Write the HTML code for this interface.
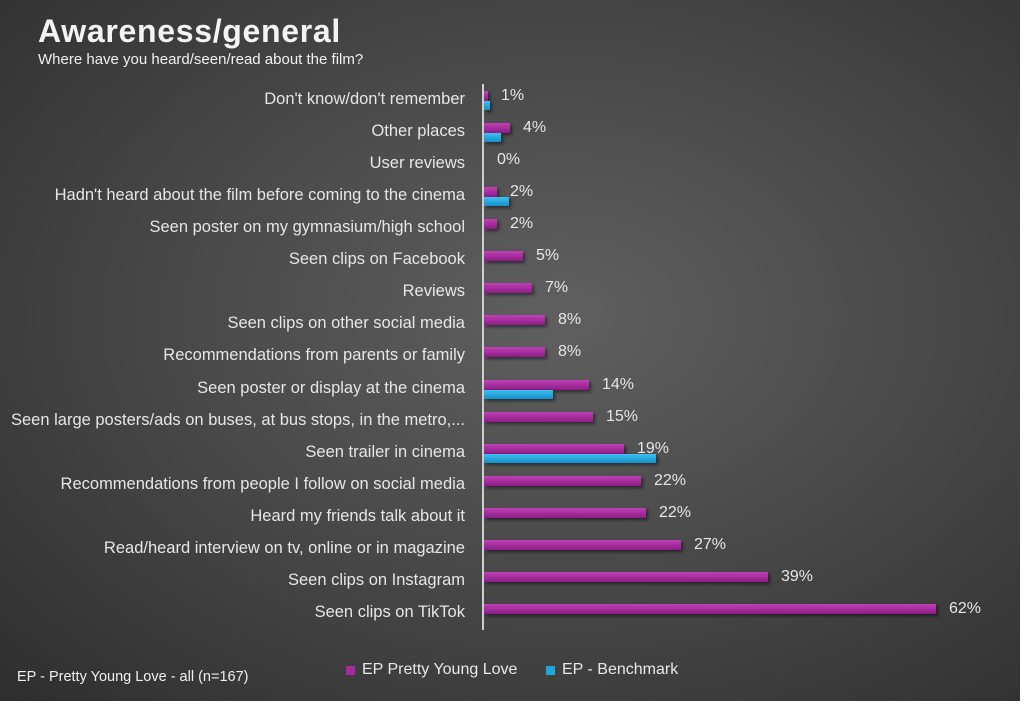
<!DOCTYPE html>
<html><head><meta charset="utf-8"><style>
html,body{margin:0;padding:0;background:#fff}
#c{position:relative;width:1020px;height:701px;overflow:hidden;background:radial-gradient(ellipse at 55% 45%,#606060 0%,#4a4a4a 45%,#2e2e2e 100%);font-family:"Liberation Sans",sans-serif;color:#e8e8e8}
.t{position:absolute;left:38px;top:13px;font-size:32px;font-weight:bold;letter-spacing:0.7px;color:#f4f4f4}
.s{position:absolute;left:38px;top:51px;font-size:15px;color:#f0f0f0}
.l{position:absolute;right:555px;font-size:16.5px;white-space:nowrap;color:#e6e6e6}
.v{position:absolute;font-size:16px;color:#e6e6e6}
.m{position:absolute;left:484px;height:10px;background:linear-gradient(#c040b8,#8c1c86);box-shadow:2px 2px 3px rgba(0,0,0,.5)}
.b{position:absolute;left:484px;height:9px;background:linear-gradient(#3cc0f0,#1690c8);box-shadow:2px 2px 3px rgba(0,0,0,.5)}
</style></head><body><div id="c">
<div class="t">Awareness/general</div>
<div class="s">Where have you heard/seen/read about the film?</div>
<div style="position:absolute;left:482px;top:84px;width:2px;height:546px;background:#cfcfcf"></div>
<div id="rows"></div>
<div style="position:absolute;left:17px;top:669px;font-size:14.5px;color:#f0f0f0">EP - Pretty Young Love - all (n=167)</div>
<div style="position:absolute;left:346px;top:666px;width:9px;height:9px;background:#a42a9e"></div>
<div style="position:absolute;left:362px;top:661px;font-size:16px">EP Pretty Young Love</div>
<div style="position:absolute;left:546px;top:666px;width:9px;height:9px;background:#22a4dc"></div>
<div style="position:absolute;left:562px;top:661px;font-size:16px">EP - Benchmark</div>
</div>
<script>
var d=[["Don't know/don't remember",488,490,"1%"],["Other places",510,501,"4%"],["User reviews",484,0,"0%"],["Hadn't heard about the film before coming to the cinema",497,509,"2%"],["Seen poster on my gymnasium/high school",497,0,"2%"],["Seen clips on Facebook",523,0,"5%"],["Reviews",532,0,"7%"],["Seen clips on other social media",545,0,"8%"],["Recommendations from parents or family",545,0,"8%"],["Seen poster or display at the cinema",589,553,"14%"],["Seen large posters/ads on buses, at bus stops, in the metro,...",593,0,"15%"],["Seen trailer in cinema",624,656,"19%"],["Recommendations from people I follow on social media",641,0,"22%"],["Heard my friends talk about it",646,0,"22%"],["Read/heard interview on tv, online or in magazine",681,0,"27%"],["Seen clips on Instagram",768,0,"39%"],["Seen clips on TikTok",936,0,"62%"]];
var h="";d.forEach(function(r,i){var c=100+i*32.06;
h+='<div class="l" style="top:'+(c-10)+'px">'+r[0].replace(/'/g,"&#39;")+'</div>';
if(r[1]>484)h+='<div class="m" style="top:'+(c-9)+'px;width:'+(r[1]-484)+'px"></div>';
if(r[2])h+='<div class="b" style="top:'+(c+1)+'px;width:'+(r[2]-484)+'px"></div>';
h+='<div class="v" style="top:'+(c-13)+'px;left:'+(r[1]+13)+'px">'+r[3]+'</div>';});
document.getElementById("rows").innerHTML=h;
</script></body></html>
